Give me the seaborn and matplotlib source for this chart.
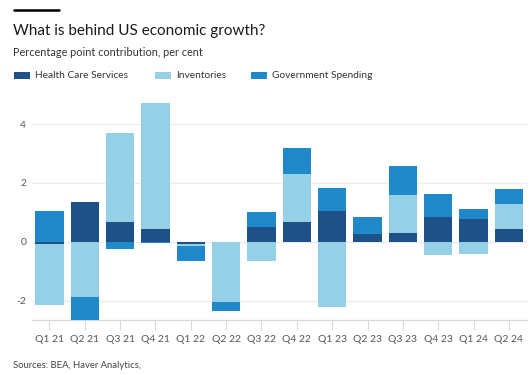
import numpy as np
import pandas as pd
import matplotlib
matplotlib.use("Agg")
import matplotlib.pyplot as plt
from matplotlib.patches import Rectangle
from matplotlib.lines import Line2D
import seaborn as sns

quarters = ["Q1 21", "Q2 21", "Q3 21", "Q4 21", "Q1 22", "Q2 22", "Q3 22",
            "Q4 22", "Q1 23", "Q2 23", "Q3 23", "Q4 23", "Q1 24", "Q2 24"]
health_care = [-0.08, 1.36, 0.67, 0.45, -0.06, 0.0, 0.50, 0.66, 1.05, 0.27, 0.31, 0.83, 0.78, 0.45]
inventories = [-2.08, -1.89, 3.02, 4.27, -0.08, -2.05, -0.66, 1.63, -2.21, 0.0, 1.27, -0.45, -0.41, 0.82]
government = [1.05, -0.80, -0.24, -0.03, -0.52, -0.32, 0.50, 0.88, 0.79, 0.57, 0.98, 0.79, 0.32, 0.53]

series_names = ["Health Care Services", "Inventories", "Government Spending"]
series_values = [health_care, inventories, government]
colors = ["#1e5188", "#96d0e6", "#2089c9"]

sns.set_theme(style="white")
plt.rcParams["font.family"] = ["Lato", "DejaVu Sans"]

fig = plt.figure(figsize=(5.3, 3.75), dpi=100)
W, H = 530, 375
ax_left, ax_right = 31.7, 526.6
ax_top, ax_bottom = 97.6, 320
ax = fig.add_axes([ax_left / W, 1 - ax_bottom / H, (ax_right - ax_left) / W, (ax_bottom - ax_top) / H])

pos_bottom = np.zeros(len(quarters))
neg_bottom = np.zeros(len(quarters))
for name, vals, col in zip(series_names, series_values, colors):
    v = np.array(vals, dtype=float)
    bottoms = np.where(v >= 0, pos_bottom, neg_bottom)
    df = pd.DataFrame({"quarter": quarters, "value": v})
    sns.barplot(data=df, x="quarter", y="value", order=quarters, color=col,
                saturation=1, width=0.8, errorbar=None, bottom=bottoms,
                linewidth=0, ax=ax, zorder=3)
    pos_bottom = pos_bottom + np.where(v >= 0, v, 0)
    neg_bottom = neg_bottom + np.where(v < 0, v, 0)

ax.set_xlim(-0.5, 13.5)
ax.set_ylim(-2.66, 4.9)
ax.set_yticks([-2, 0, 2, 4])
ax.set_yticklabels(["-2", "0", "2", "4"])
ax.set_xlabel("")
ax.set_ylabel("")
ax.yaxis.grid(True, color="#ececec", linewidth=0.9, zorder=0)
ax.xaxis.grid(False)
for s in ["top", "right", "left"]:
    ax.spines[s].set_visible(False)
ax.spines["bottom"].set_color("#d9d9d9")
ax.spines["bottom"].set_linewidth(0.9)
ax.tick_params(axis="y", length=0, labelsize=7.5, labelcolor="#555555", pad=4)
ax.tick_params(axis="x", length=7, width=0.8, color="#d9d9d9", labelsize=7.5,
               labelcolor="#555555", pad=4, bottom=True)

# Header
fig.add_artist(Line2D([14 / W, 59 / W], [1 - 10 / H, 1 - 10 / H], color="black", linewidth=1.8))
fig.text(13 / W, 1 - 31 / H, "What is behind US economic growth?", fontsize=11,
         color="#1a1a1a", va="center", ha="left")
fig.text(13 / W, 1 - 52 / H, "Percentage point contribution, per cent", fontsize=7.8,
         color="#333333", va="center", ha="left")

# Legend
legend_x = [14, 155, 251]
for x0, name, col in zip(legend_x, series_names, colors):
    fig.add_artist(Rectangle((x0 / W, 1 - 79 / H), 16 / W, 7 / H, transform=fig.transFigure,
                             facecolor=col, edgecolor="none"))
    fig.text((x0 + 21) / W, 1 - 75.5 / H, name, fontsize=7.3, color="#333333",
             va="center", ha="left")

fig.text(13 / W, 1 - 366 / H, "Sources: BEA, Haver Analytics,", fontsize=6.8,
         color="#444444", va="center", ha="left")

fig.savefig("out.png", dpi=100)
